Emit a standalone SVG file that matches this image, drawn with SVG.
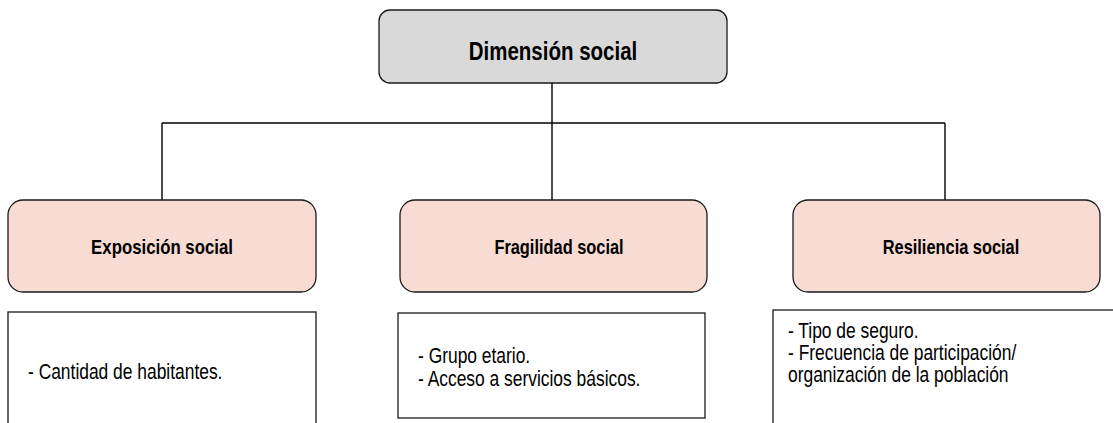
<svg xmlns="http://www.w3.org/2000/svg" width="1113" height="423" viewBox="0 0 1113 423">
<style>
.top{fill:#d9d9d9;stroke:#1a1a1a;stroke-width:1.3}
.cat{fill:#f8dbd3;stroke:#1a1a1a;stroke-width:1.3}
.box{fill:#ffffff;stroke:#1a1a1a;stroke-width:1.3}
.conn{stroke:#000;stroke-width:1.4;fill:none}
.ttl{font-family:"Liberation Sans",Arial,sans-serif;font-weight:bold;font-size:25px;fill:#000;text-anchor:middle}
.lbl{font-family:"Liberation Sans",Arial,sans-serif;font-weight:bold;font-size:20px;fill:#000;text-anchor:middle}
.txt{font-family:"Liberation Sans",Arial,sans-serif;font-size:21.5px;fill:#000}
</style>
<rect width="1113" height="423" fill="#fff"/>
<g id="connectors">
<line class="conn" x1="552" y1="83" x2="552" y2="200"/>
<line class="conn" x1="162" y1="123" x2="945" y2="123"/>
<line class="conn" x1="162" y1="123" x2="162" y2="200"/>
<line class="conn" x1="945" y1="123" x2="945" y2="200"/>
</g>
<g id="dimension-social">
<rect class="top" x="379" y="10" width="348" height="73" rx="11"/>
<g transform="translate(553,60) scale(0.82,1)"><text class="ttl" x="0" y="0">Dimensión social</text></g>
</g>
<g id="exposicion-social">
<rect class="cat" x="8" y="200" width="308" height="92" rx="15"/>
<g transform="translate(162,254) scale(0.84,1)"><text class="lbl" x="0" y="0">Exposición social</text></g>
</g>
<g id="fragilidad-social">
<rect class="cat" x="400" y="200" width="307" height="92" rx="15"/>
<g transform="translate(559,254) scale(0.82,1)"><text class="lbl" x="0" y="0">Fragilidad social</text></g>
</g>
<g id="resiliencia-social">
<rect class="cat" x="793" y="200" width="307" height="92" rx="15"/>
<g transform="translate(951,254) scale(0.82,1)"><text class="lbl" x="0" y="0">Resiliencia social</text></g>
</g>
<g id="exposicion-indicadores">
<rect class="box" x="8" y="312" width="308" height="130"/>
<g transform="translate(28,379) scale(0.81,1)"><text class="txt" x="0" y="0">- Cantidad de habitantes.</text></g>
</g>
<g id="fragilidad-indicadores">
<rect class="box" x="398" y="313" width="307" height="105"/>
<g transform="translate(418,363) scale(0.81,1)"><text class="txt" x="0" y="0">- Grupo etario.</text></g>
<g transform="translate(418,386) scale(0.81,1)"><text class="txt" x="0" y="0">- Acceso a servicios básicos.</text></g>
</g>
<g id="resiliencia-indicadores">
<rect class="box" x="773" y="310" width="360" height="130"/>
<g transform="translate(788,338) scale(0.81,1)"><text class="txt" x="0" y="0">- Tipo de seguro.</text></g>
<g transform="translate(788,360) scale(0.81,1)"><text class="txt" x="0" y="0">- Frecuencia de participación/</text></g>
<g transform="translate(788,382) scale(0.81,1)"><text class="txt" x="0" y="0">organización de la población</text></g>
</g>
</svg>
